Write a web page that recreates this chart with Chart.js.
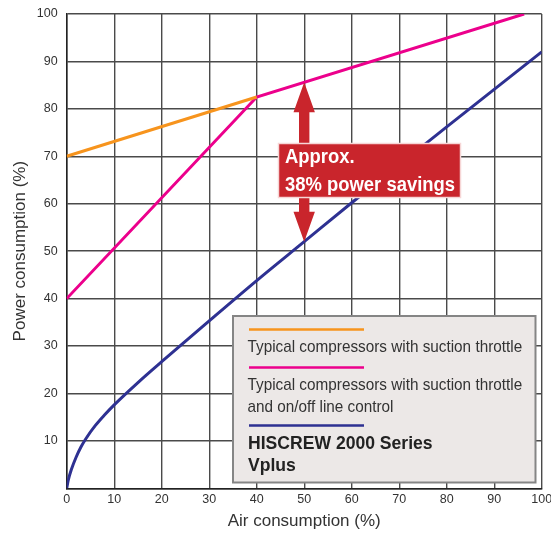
<!DOCTYPE html>
<html><head><meta charset="utf-8">
<script src="https://cdn.jsdelivr.net/npm/chart.js@4/dist/chart.umd.min.js"></script>
<style>html,body{margin:0;padding:0;background:#fff}#wrap{width:551px;height:535px}</style>
</head><body><div id="wrap"><canvas id="c" width="551" height="535"></canvas></div>
<script>
// ---- data ----
const tickValues = [0,10,20,30,40,50,60,70,80,90,100];
const suctionX = [0, 40];
const suctionY = [70, 82.5];
const onoffX = [0, 40, 96.3];
const onoffY = [40, 82.5, 100];
const vplusX = [0, 0.3, 1, 2, 3, 4, 6, 8, 10, 15, 20, 30, 40, 50, 60, 70, 80, 90, 100];
const vplusY = [0, 1.6, 4, 6.6, 8.7, 10.4, 13.2, 15.5, 17.6, 22.3, 26.7, 35.3, 43.8, 52, 60.2, 68.2, 76.2, 84.1, 92];
const seriesNames = [
  ['Typical compressors with suction throttle'],
  ['Typical compressors with suction throttle', 'and on/off line control'],
  ['HISCREW 2000 Series', 'Vplus']
];
const savingsText = ['Approx.', '38% power savings'];
const savingsAt = 50;          // x value of the double arrow
const savingsTop = 85.6;       // on/off line at x=50
const savingsBottom = 52;      // Vplus at x=50
const xTitle = 'Air consumption (%)';
const yTitle = 'Power consumption (%)';

const colors = ['#f7941d', '#ec008c', '#2e3192'];
const FONT = "'Liberation Sans', Arial, Helvetica, sans-serif";

function pts(xs, ys){ return xs.map((x,i)=>({x:x, y:ys[i]})); }

function condensed(ctx, text, x, y, sx){
  ctx.save(); ctx.translate(x, y); ctx.scale(sx, 1); ctx.fillText(text, 0, 0); ctx.restore();
}

const overlay = {
  id: 'overlay',
  afterDatasetsDraw(chart){
    const ctx = chart.ctx, xs = chart.scales.x, ys = chart.scales.y;
    const red = '#c9252c';
    // --- savings annotation ---
    const cx = xs.getPixelForValue(savingsAt);
    const tipTop = ys.getPixelForValue(savingsTop);
    const tipBot = ys.getPixelForValue(savingsBottom);
    const bx0 = 278.5, bx1 = 460.5, by0 = 143.5, by1 = 197.5;
    const hw = 10.7, sw = 5.2, hh = 30;
    ctx.save();
    ctx.fillStyle = red;
    // up arrow
    ctx.beginPath();
    ctx.moveTo(cx, tipTop);
    ctx.lineTo(cx + hw, tipTop + hh);
    ctx.lineTo(cx + sw, tipTop + hh);
    ctx.lineTo(cx + sw, by0 + 2);
    ctx.lineTo(cx - sw, by0 + 2);
    ctx.lineTo(cx - sw, tipTop + hh);
    ctx.lineTo(cx - hw, tipTop + hh);
    ctx.closePath(); ctx.fill();
    // down arrow
    ctx.beginPath();
    ctx.moveTo(cx, tipBot);
    ctx.lineTo(cx + hw, tipBot - hh);
    ctx.lineTo(cx + sw, tipBot - hh);
    ctx.lineTo(cx + sw, by1 - 2);
    ctx.lineTo(cx - sw, by1 - 2);
    ctx.lineTo(cx - sw, tipBot - hh);
    ctx.lineTo(cx - hw, tipBot - hh);
    ctx.closePath(); ctx.fill();
    // box
    ctx.fillStyle = red;
    ctx.fillRect(bx0, by0, bx1 - bx0, by1 - by0);
    ctx.strokeStyle = '#f6d6d6'; ctx.lineWidth = 1.5;
    ctx.strokeRect(bx0, by0, bx1 - bx0, by1 - by0);
    ctx.fillStyle = '#ffffff';
    ctx.font = 'bold 19.5px ' + FONT;
    ctx.textBaseline = 'alphabetic'; ctx.textAlign = 'left';
    condensed(ctx, savingsText[0], 285, 162.5, 0.945);
    condensed(ctx, savingsText[1], 285, 190.5, 0.945);
    ctx.restore();

    // --- legend box ---
    const lx0 = 233, ly0 = 316, lx1 = 535.5, ly1 = 482.5;
    ctx.save();
    ctx.fillStyle = '#ece8e7';
    ctx.fillRect(lx0, ly0, lx1 - lx0, ly1 - ly0);
    ctx.strokeStyle = '#858585'; ctx.lineWidth = 2;
    ctx.strokeRect(lx0, ly0, lx1 - lx0, ly1 - ly0);
    const sx0 = 249, sx1 = 364;
    const lineYs = [329.5, 367.5, 425.5];
    lineYs.forEach((y, i) => {
      ctx.strokeStyle = colors[i]; ctx.lineWidth = 2.5;
      ctx.beginPath(); ctx.moveTo(sx0, y); ctx.lineTo(sx1, y); ctx.stroke();
    });
    ctx.textAlign = 'left'; ctx.textBaseline = 'alphabetic';
    ctx.fillStyle = '#333333';
    ctx.font = '17px ' + FONT;
    condensed(ctx, seriesNames[0][0], 247.5, 351.8, 0.9);
    condensed(ctx, seriesNames[1][0], 247.5, 390, 0.9);
    condensed(ctx, seriesNames[1][1], 247.5, 411.8, 0.9);
    ctx.fillStyle = '#222222';
    ctx.font = 'bold 18.5px ' + FONT;
    condensed(ctx, seriesNames[2][0], 248, 448.5, 0.95);
    condensed(ctx, seriesNames[2][1], 248, 471, 0.95);
    ctx.restore();
  }
};

const gridCfg = { color: '#4a4a4a', lineWidth: 1.4, drawTicks: false };
const tickFont = { family: FONT, size: 12.5 };
const titleFont = { family: FONT, size: 17 };

new Chart(document.getElementById('c'), {
  type: 'line',
  data: {
    datasets: [
      { label: seriesNames[0].join(' '), data: pts(suctionX, suctionY), borderColor: colors[0], borderWidth: 3, pointRadius: 0, tension: 0 },
      { label: seriesNames[1].join(' '), data: pts(onoffX, onoffY), borderColor: colors[1], borderWidth: 3, pointRadius: 0, tension: 0 },
      { label: seriesNames[2].join(' '), data: pts(vplusX, vplusY), borderColor: colors[2], borderWidth: 3, pointRadius: 0, cubicInterpolationMode: 'monotone' }
    ]
  },
  options: {
    responsive: false, animation: false, devicePixelRatio: 1,
    layout: { padding: { left: 0, right: 9.3, top: 14, bottom: 0 } },
    plugins: { legend: { display: false }, tooltip: { enabled: false } },
    scales: {
      x: {
        type: 'linear', min: 0, max: 100,
        afterBuildTicks: s => { s.ticks = tickValues.map(v => ({value: v})); },
        afterFit: s => { s.height = 46.7; s.paddingLeft = 0; s.paddingRight = 0; },
        grid: gridCfg,
        border: { color: '#222', width: 1.5 },
        ticks: { font: tickFont, color: '#333', padding: 4, maxRotation: 0, autoSkip: false },
        title: { display: true, text: xTitle, font: titleFont, color: '#333', padding: { top: 0, bottom: 3 } }
      },
      y: {
        type: 'linear', min: 0, max: 100,
        afterBuildTicks: s => { s.ticks = tickValues.map(v => ({value: v})); },
        afterFit: s => { s.width = 66.7; s.paddingTop = 0; s.paddingBottom = 0; },
        grid: gridCfg,
        border: { color: '#222', width: 1.5 },
        ticks: { font: tickFont, color: '#333', padding: 9, autoSkip: false, callback: v => (v === 0 ? '' : String(v)) },
        title: { display: true, text: yTitle, font: titleFont, color: '#333', padding: { top: 10, bottom: 0 } }
      }
    }
  },
  plugins: [overlay]
});
</script>
</body></html>
